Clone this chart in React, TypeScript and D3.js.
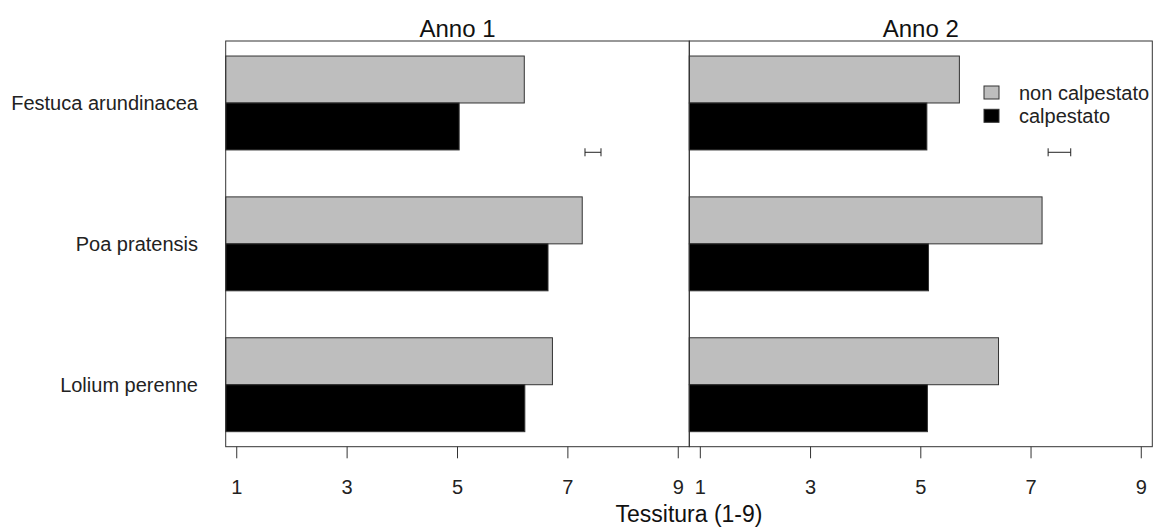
import React from "react";
import * as d3 from "d3";

const categories = ["Festuca arundinacea", "Poa pratensis", "Lolium perenne"];
const years = ["Anno 1", "Anno 2"];
const series = ["non calpestato", "calpestato"];
const nonCalpestatoAnno1 = [6.21, 7.26, 6.72];
const calpestatoAnno1 = [5.03, 6.64, 6.22];
const nonCalpestatoAnno2 = [5.7, 7.2, 6.41];
const calpestatoAnno2 = [5.11, 5.14, 5.12];
const lsdCenter = [7.455, 7.515];
const lsdHalf = [0.145, 0.205];
const xTicks = [1, 3, 5, 7, 9];
const xLabel = "Tessitura (1-9)";

const W = 1153;
const H = 529;
const FONT = "'Liberation Sans', Arial, sans-serif";
const colors = ["#bebebe", "#000000"];
const stroke = "#333333";

const panelRanges: [number, number][] = [
  [225.7, 689.3],
  [689.3, 1152.3],
];
const top = 41;
const bottom = 446.7;

export default function App() {
  const y = d3.scaleLinear().domain([0.68, 9.32]).range([bottom, top]);
  const panelData = [
    [nonCalpestatoAnno1, calpestatoAnno1],
    [nonCalpestatoAnno2, calpestatoAnno2],
  ];

  return (
    <svg
      width={W}
      height={H}
      style={{ position: "absolute", left: 0, top: 0, background: "#fff" }}
      fontFamily={FONT}
    >
      <rect x={0} y={0} width={W} height={H} fill="#fff" />
      {categories.map((c, i) => (
        <text
          key={c}
          x={198}
          y={y(8 - 3 * i)}
          dy="0.35em"
          textAnchor="end"
          fontSize={20}
          fill="#222"
        >
          {c}
        </text>
      ))}
      {years.map((yr, p) => {
        const x = d3.scaleLinear().domain([0.8, 9.2]).range(panelRanges[p]);
        const [x0, x1] = panelRanges[p];
        const vals = panelData[p];
        const ey = y(6.95);
        return (
          <g key={yr}>
            <text
              x={(x0 + x1) / 2}
              y={36.7}
              textAnchor="middle"
              fontSize={24}
              fill="#111"
            >
              {yr}
            </text>
            {categories.map((c, i) => {
              const t = 9 - 3 * i;
              return (
                <g key={c}>
                  {vals.map((s, k) => (
                    <rect
                      key={k}
                      x={x(0.8)}
                      y={y(t - k)}
                      width={x(s[i]) - x(0.8)}
                      height={y(t - k - 1) - y(t - k)}
                      fill={colors[k]}
                      stroke={stroke}
                      strokeWidth={1}
                    />
                  ))}
                </g>
              );
            })}
            <rect
              x={x0}
              y={top}
              width={x1 - x0}
              height={bottom - top}
              fill="none"
              stroke={stroke}
              strokeWidth={1}
            />
            {xTicks.map((tk) => (
              <g key={tk}>
                <line
                  x1={x(tk)}
                  x2={x(tk)}
                  y1={bottom}
                  y2={bottom + 11.6}
                  stroke={stroke}
                  strokeWidth={1}
                />
                <text
                  x={x(tk)}
                  y={494}
                  textAnchor="middle"
                  fontSize={20}
                  fill="#222"
                >
                  {tk}
                </text>
              </g>
            ))}
            <g stroke="#222" strokeWidth={1}>
              <line
                x1={x(lsdCenter[p] - lsdHalf[p])}
                x2={x(lsdCenter[p] + lsdHalf[p])}
                y1={ey}
                y2={ey}
              />
              <line
                x1={x(lsdCenter[p] - lsdHalf[p])}
                x2={x(lsdCenter[p] - lsdHalf[p])}
                y1={ey - 4}
                y2={ey + 4}
              />
              <line
                x1={x(lsdCenter[p] + lsdHalf[p])}
                x2={x(lsdCenter[p] + lsdHalf[p])}
                y1={ey - 4}
                y2={ey + 4}
              />
            </g>
          </g>
        );
      })}
      <g>
        {series.map((s, k) => (
          <g key={s}>
            <rect
              x={984}
              y={86 + k * 23.3}
              width={15}
              height={13}
              fill={colors[k]}
              stroke={stroke}
              strokeWidth={1}
            />
            <text
              x={1019}
              y={92.5 + k * 23.3}
              dy="0.35em"
              fontSize={20}
              fill="#222"
            >
              {s}
            </text>
          </g>
        ))}
      </g>
      <text
        x={(panelRanges[0][0] + panelRanges[1][1]) / 2}
        y={522}
        textAnchor="middle"
        fontSize={23}
        fill="#111"
      >
        {xLabel}
      </text>
    </svg>
  );
}
